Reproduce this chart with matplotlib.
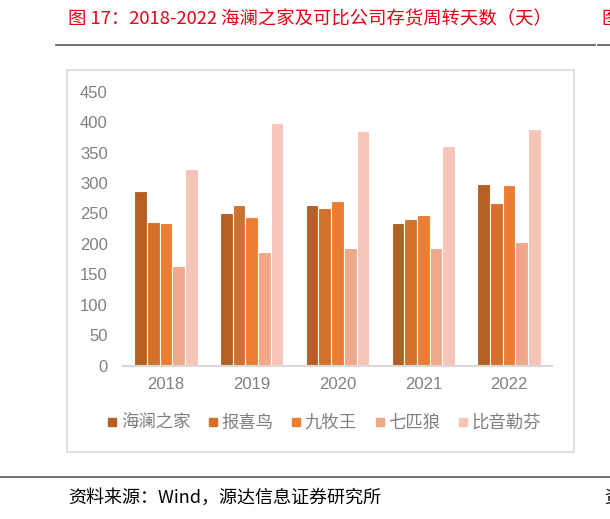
import matplotlib.pyplot as plt
from matplotlib.patches import Rectangle
from matplotlib.lines import Line2D
import numpy as np

plt.rcParams['font.family'] = ['Noto Sans CJK SC', 'DejaVu Sans']

years = ["2018", "2019", "2020", "2021", "2022"]
companies = ["海澜之家", "报喜鸟", "九牧王", "七匹狼", "比音勒芬"]
hailan = [287, 251, 264, 234, 299]
baoxiniao = [236, 264, 259, 241, 268]
jiumuwang = [235, 245, 271, 247, 296]
qipilang = [163, 187, 193, 193, 203]
biyinlefen = [323, 398, 385, 361, 389]
series = [hailan, baoxiniao, jiumuwang, qipilang, biyinlefen]
colors = ["#B45F23", "#D2702C", "#EC7E33", "#F0A88A", "#F6C5B8"]

W, H = 610, 519
fig = plt.figure(figsize=(W / 100, H / 100), dpi=100)

def fx(px):
    return px / W

def fy(py):
    return 1 - py / H

# title and frame lines
fig.text(fx(68), fy(19), "图 17：2018-2022 海澜之家及可比公司存货周转天数（天）",
         color="#E60012", fontsize=13.2, va="center", ha="left")
fig.text(fx(601), fy(19), "图", color="#E60012", fontsize=13.2, va="center", ha="left")
fig.add_artist(Line2D([fx(56), fx(595)], [fy(45), fy(45)], color="#555555", lw=1.2))
fig.add_artist(Line2D([fx(598), fx(610)], [fy(45), fy(45)], color="#555555", lw=1.2))
fig.add_artist(Rectangle((fx(67), fy(452)), fx(574) - fx(67), fy(70) - fy(452),
                         fill=False, edgecolor="#D9D9D9", lw=1.2))
fig.add_artist(Line2D([0, 1], [fy(477), fy(477)], color="#555555", lw=1.2))
fig.text(fx(68), fy(498), "资料来源：Wind，源达信息证券研究所",
         color="black", fontsize=13, va="center", ha="left")
fig.text(fx(604), fy(498), "资", color="black", fontsize=13, va="center", ha="left")

ax = fig.add_axes([fx(123), fy(365.7), fx(552) - fx(123), fy(91.7) - fy(365.7)])
x = np.arange(len(years))
bw = 0.148
for i, (vals, c) in enumerate(zip(series, colors)):
    ax.bar(x + (i - 2) * bw, vals, width=bw, color=c, edgecolor="white",
           linewidth=0.8, label=companies[i])

ax.set_xlim(-0.5, 4.5)
ax.set_ylim(0, 450)
ax.set_yticks(range(0, 451, 50))
ax.set_xticks(x)
ax.set_xticklabels(years)
for s in ["top", "right", "left"]:
    ax.spines[s].set_visible(False)
ax.spines["bottom"].set_color("#D9D9D9")
ax.spines["bottom"].set_linewidth(1.5)
ax.tick_params(axis="both", length=0, colors="#808080", labelsize=12)
ax.tick_params(axis="y", pad=11)
ax.tick_params(axis="x", pad=8)
for lab in ax.get_xticklabels() + ax.get_yticklabels():
    lab.set_fontfamily(["Liberation Sans", "DejaVu Sans"])

handles = [Line2D([0], [0], marker="s", color="w", markerfacecolor=c,
                  markeredgecolor=c, markersize=6) for c in colors]
fig.legend(handles, companies, loc="center", bbox_to_anchor=(fx(324), fy(423)),
           ncol=5, frameon=False, fontsize=12.5, labelcolor="#7F7F7F",
           handlelength=0.6, handletextpad=0.2, columnspacing=1.0)

fig.savefig("out.png", dpi=100)
